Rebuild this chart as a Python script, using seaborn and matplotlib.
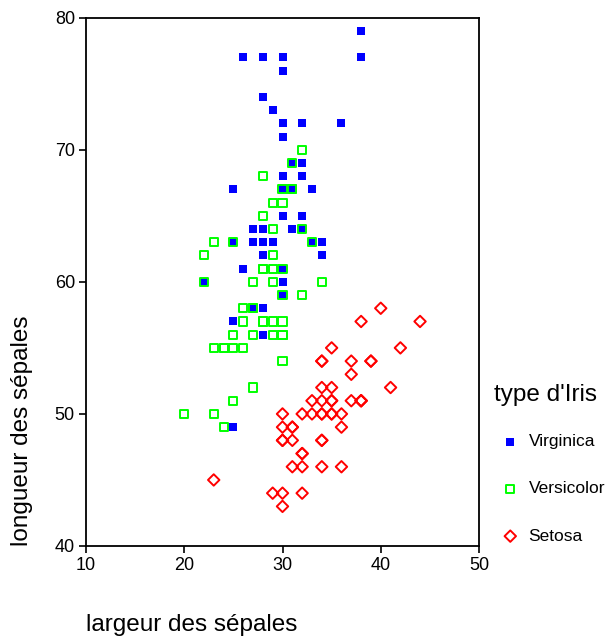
import matplotlib
matplotlib.use("Agg")
import matplotlib.pyplot as plt
import seaborn as sns
import pandas as pd

# Sepal width / length (mm) per species
virginica_width = [33, 27, 30, 29, 30, 30, 25, 29, 25, 36, 32, 27, 30, 25, 28, 32, 30, 38, 26, 22,
                   32, 28, 28, 27, 33, 32, 28, 30, 28, 30, 28, 38, 28, 28, 26, 30, 34, 31, 30, 31,
                   31, 31, 27, 32, 33, 30, 25, 30, 34, 30]
virginica_length = [63, 58, 71, 63, 65, 76, 49, 73, 67, 72, 65, 64, 68, 57, 58, 64, 65, 77, 77, 60,
                    69, 56, 77, 63, 67, 72, 62, 61, 64, 72, 74, 79, 64, 63, 61, 77, 63, 64, 60, 69,
                    67, 69, 58, 68, 67, 67, 63, 65, 62, 59]
versicolor_width = [32, 32, 31, 23, 28, 28, 33, 24, 29, 27, 20, 30, 22, 29, 29, 31, 30, 27, 22, 25,
                    32, 28, 25, 28, 29, 30, 28, 30, 29, 26, 24, 24, 27, 27, 30, 34, 31, 23, 30, 25,
                    26, 30, 26, 23, 27, 30, 29, 29, 25, 28]
versicolor_length = [70, 64, 69, 55, 65, 57, 63, 49, 66, 52, 50, 59, 60, 61, 56, 67, 56, 58, 62, 56,
                     59, 61, 63, 61, 64, 66, 68, 67, 60, 57, 55, 55, 58, 60, 54, 60, 67, 63, 56, 55,
                     55, 61, 58, 50, 56, 57, 57, 62, 51, 57]
setosa_width = [35, 30, 32, 31, 36, 39, 34, 34, 29, 31, 37, 34, 30, 30, 40, 44, 39, 35, 38, 38,
                34, 37, 36, 33, 34, 30, 34, 35, 34, 32, 31, 34, 41, 42, 31, 32, 35, 36, 30, 34,
                35, 23, 32, 35, 38, 30, 38, 32, 37, 33]
setosa_length = [51, 49, 47, 46, 50, 54, 46, 50, 44, 49, 54, 48, 48, 43, 58, 57, 54, 51, 57, 51,
                 54, 51, 46, 51, 48, 50, 50, 52, 52, 47, 48, 54, 52, 55, 49, 50, 55, 49, 44, 51,
                 50, 45, 44, 50, 51, 48, 51, 46, 53, 50]

species = ["Virginica", "Versicolor", "Setosa"]
colors = {"Virginica": "#0000ff", "Versicolor": "#00ff00", "Setosa": "#ff0000"}

frames = []
for name, w, l in [("Virginica", virginica_width, virginica_length),
                   ("Versicolor", versicolor_width, versicolor_length),
                   ("Setosa", setosa_width, setosa_length)]:
    frames.append(pd.DataFrame({"largeur": w, "longueur": l, "type": name}))
df = pd.concat(frames, ignore_index=True)

sns.set_style("white")
plt.rcParams["font.family"] = ["Liberation Sans", "DejaVu Sans"]
plt.rcParams["text.color"] = "black"

fig = plt.figure(figsize=(6.16, 6.39), dpi=100)
ax = fig.add_axes([86 / 616, 1 - 546 / 639, (479 - 86) / 616, (546 - 17.7) / 639])

styles = {
    "Virginica": dict(marker="s", s=28, color=colors["Virginica"], linewidth=0),
    "Versicolor": dict(marker="s", s=34, facecolor="none", edgecolor=colors["Versicolor"], linewidth=1.4),
    "Setosa": dict(marker="D", s=34, facecolor="none", edgecolor=colors["Setosa"], linewidth=1.4),
}
for name in species:
    sub = df[df["type"] == name]
    sns.scatterplot(data=sub, x="largeur", y="longueur", ax=ax, label=name, **styles[name])

ax.set_xlim(10, 50)
ax.set_ylim(40, 80)
ax.set_xticks([10, 20, 30, 40, 50])
ax.set_yticks([40, 50, 60, 70, 80])
for sp in ax.spines.values():
    sp.set_visible(True)
    sp.set_color("black")
    sp.set_linewidth(1.3)
ax.tick_params(axis="both", which="major", direction="out", length=5, width=1.2, pad=3,
               labelsize=13, colors="black", bottom=True, left=True, top=False, right=False)
ax.set_xlabel("")
ax.set_ylabel("")

fig.text(86 / 616, 1 - 625 / 639, "largeur des sépales", fontsize=17.5, ha="left", va="center",
         color="black")
fig.text(22 / 616, 1 - 546 / 639, "longueur des sépales", fontsize=17.5, ha="center", va="bottom",
         rotation=90, color="black")
fig.text(494 / 616, 1 - 395 / 639, "type d'Iris", fontsize=17.5, ha="left", va="center",
         color="black")

leg = ax.legend(loc="upper left", bbox_to_anchor=(499 / 616, 1 - 434 / 639),
                bbox_transform=fig.transFigure, frameon=False, fontsize=12.5,
                labelspacing=1.85, handletextpad=0.4, markerscale=1.0, borderaxespad=0,
                borderpad=0, handlelength=1.3)
for t in leg.get_texts():
    t.set_color("black")

fig.savefig("out.png", dpi=100)
